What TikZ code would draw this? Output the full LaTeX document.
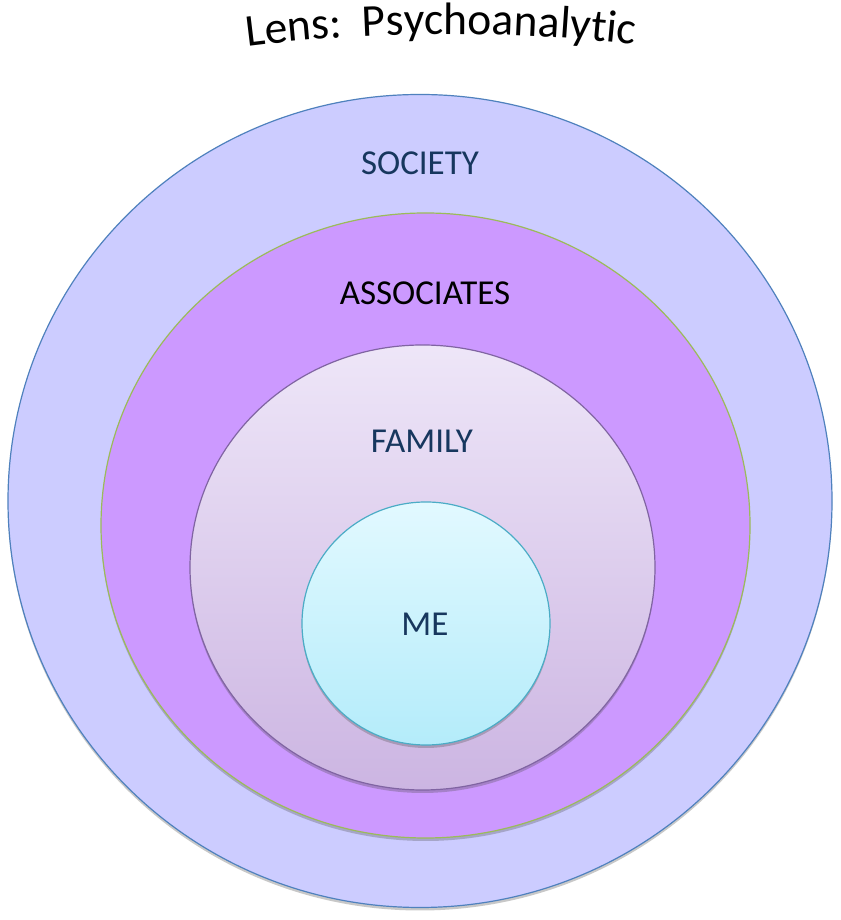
\documentclass[tikz,border=0pt]{standalone}
\usepackage{fontspec}
\setmainfont{Carlito}
\usetikzlibrary{shapes.geometric,decorations.text,shadows}
\definecolor{outerfill}{RGB}{204,204,255}
\definecolor{outerline}{RGB}{79,129,189}
\definecolor{assocfill}{RGB}{204,153,255}
\definecolor{assocline}{RGB}{155,187,89}
\definecolor{famtop}{RGB}{238,230,248}
\definecolor{fambot}{RGB}{204,181,226}
\definecolor{famline}{RGB}{128,100,162}
\definecolor{metop}{RGB}{226,249,255}
\definecolor{mebot}{RGB}{180,236,250}
\definecolor{meline}{RGB}{75,172,198}
\definecolor{navy}{RGB}{23,55,94}
\begin{document}
\begin{tikzpicture}[x=1pt,y=1pt,
  ring/.style={ellipse, inner sep=0pt, line width=1.2pt},
  shad/.style={drop shadow={shadow xshift=0pt, shadow yshift=-3pt, opacity=0.3, fill=black!70}},
  lbl/.style={font=\fontsize{35}{40}\selectfont, inner sep=0pt, text=navy},
]
\useasboundingbox[fill=white] (0,0) rectangle (840,920);
\node[ring, shad, draw=outerline, fill=outerfill, minimum width=824, minimum height=813] (society) at (420,419) {};
\node[ring, shad, draw=assocline, fill=assocfill, minimum width=649, minimum height=625] (assoc) at (425.5,394.5) {};
\node[ring, shad, draw=famline, top color=famtop, bottom color=fambot, minimum width=465, minimum height=445] (family) at (422.5,352.5) {};
\node[ring, shad, draw=meline, top color=metop, bottom color=mebot, minimum width=248, minimum height=243] (me) at (426,296.5) {};
\node[lbl] (tsociety) at (420,757) {SOCIETY};
\node[lbl, text=black] (tassoc) at (425,627) {ASSOCIATES};
\node[lbl] (tfamily) at (422,479) {FAMILY};
\node[lbl] (tme) at (425,296) {ME};
\path[decorate, decoration={text along path, text align=center,
  text={|\fontsize{45.5}{50}\selectfont|Lens:{\ \ }Psychoanalytic}}]
  (236,872) .. controls (370,890) and (510,890) .. (646,874);
\end{tikzpicture}
\end{document}
